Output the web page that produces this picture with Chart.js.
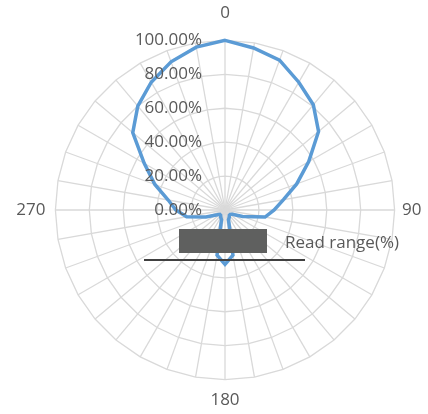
<!DOCTYPE html>
<html>
<head>
<meta charset="utf-8">
<script src="https://cdn.jsdelivr.net/npm/chart.js@4"></script>
<style>
  body { margin: 0; background: #fff; }
  #wrap { width: 428px; height: 414px; }
</style>
</head>
<body>
<div id="wrap"><canvas id="radarChart"></canvas></div>
<script>
// angle categories, every 10 degrees
const angleLabels = ['0', '10', '20', '30', '40', '50', '60', '70', '80', '90', '100', '110',
    '120', '130', '140', '150', '160', '170', '180', '190', '200', '210', '220', '230',
    '240', '250', '260', '270', '280', '290', '300', '310', '320', '330', '340', '350'];
const shownAngles = ['0', '90', '180', '270'];
// read range in percent
const readRange = [100, 97, 94, 87, 81, 72, 57, 45, 35, 29, 24, 11,
    5, 4, 4, 5, 6, 27, 32, 27, 6, 5, 4, 4,
    6, 12, 23, 29, 34, 44, 55, 71, 80, 87, 93, 97.5];
const seriesName = 'Read range(%)';

const labelFont = '17px "Open Sans"';
const textColor = '#595959';

const overlay = {
    id: 'overlay',
    afterDatasetsDraw(chart) {
        const s = chart.scales.r;
        const c = chart.ctx;
        c.save();
        c.font = labelFont;
        c.fillStyle = textColor;
        c.textAlign = 'right';
        c.textBaseline = 'middle';
        s.ticks.forEach(t => {
            c.fillText(t.label, s.xCenter - 23, s.yCenter - s.getDistanceFromCenterForValue(t.value));
        });

        // legend (as it shows in the original)
        c.fillStyle = '#5f605f';
        c.fillRect(179, 229, 88, 24);
        c.strokeStyle = '#404040';
        c.lineWidth = 2;
        c.beginPath();
        c.moveTo(144, 260);
        c.lineTo(305, 260);
        c.stroke();
        c.fillStyle = textColor;
        c.textAlign = 'left';
        c.fillText(chart.data.datasets[0].label, 285, 243);
        c.restore();
    }
};

const ctx = document.getElementById('radarChart');

new Chart(ctx, {
    type: 'radar',
    data: {
        labels: angleLabels,
        datasets: [{
            label: seriesName,
            data: readRange,
            fill: false,
            borderColor: '#5b9bd5',
            borderWidth: 3.5,
            pointRadius: 0,
            tension: 0
        }]
    },
    options: {
        responsive: true,
        maintainAspectRatio: false,
        animation: false,
        layout: {
            padding: { top: -1, bottom: -2, left: 10, right: -3 }
        },
        plugins: {
            legend: { display: false },
            tooltip: { enabled: false }
        },
        scales: {
            r: {
                min: 0,
                max: 100,
                ticks: {
                    stepSize: 20,
                    display: false,
                    callback: v => v.toFixed(2) + '%'
                },
                grid: { color: '#d9d9d9', lineWidth: 1.3, circular: false },
                angleLines: { color: '#d9d9d9', lineWidth: 1.3 },
                pointLabels: {
                    color: textColor,
                    font: { family: 'Open Sans', size: 17 },
                    padding: c => ({ 0: 17, 9: 7.5, 18: 10, 27: 10 })[c.index] ?? 5,
                    callback: label => shownAngles.includes(label) ? label : ''
                }
            }
        }
    },
    plugins: [overlay]
});
</script>
</body>
</html>
